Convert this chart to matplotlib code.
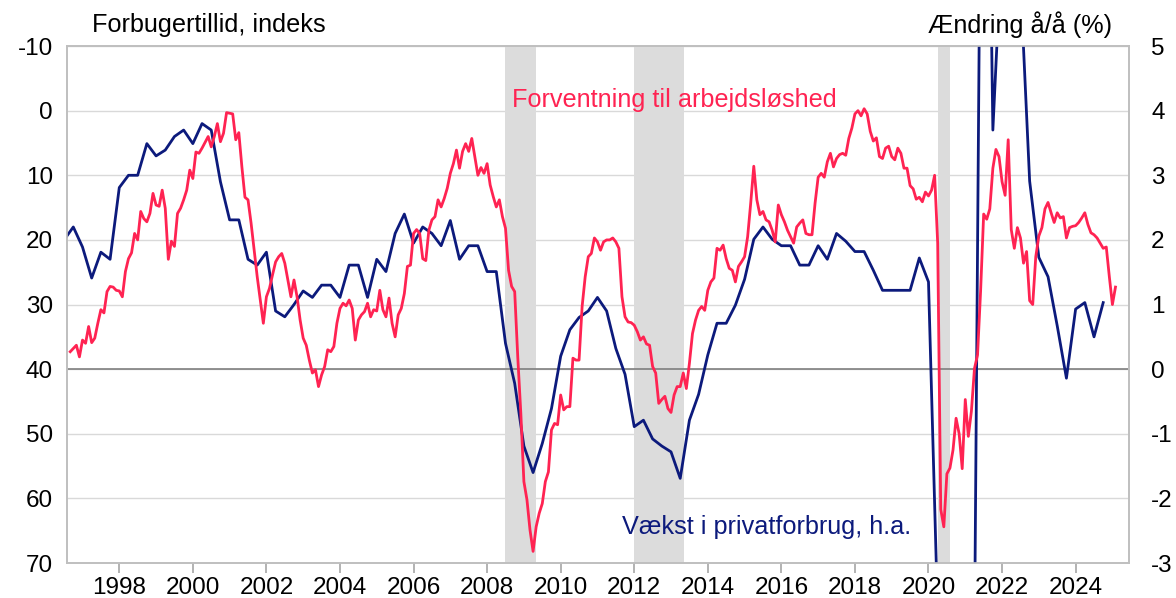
import numpy as np
import pandas as pd
import matplotlib
matplotlib.use("Agg")
import matplotlib.pyplot as plt

plt.rcParams['font.family'] = ['Liberation Sans', 'DejaVu Sans']
plt.rcParams['axes.unicode_minus'] = False

# Forventning til arbejdsløshed (venstre akse, omvendt), månedlig sep. 1996 - feb. 2025
unemp_expect = [
    37.3, 36.8, 36.3, 38.1,                                                  # 1996 (sep-dec)
    35.5, 36.0, 33.4, 35.9, 35.2, 32.9, 30.8, 31.3, 28.0, 27.2, 27.3, 27.8,  # 1997
    27.9, 28.8, 24.9, 22.9, 22.0, 19.0, 20.0, 15.6, 16.7, 17.2, 15.9, 12.8,  # 1998
    14.6, 14.8, 12.3, 15.1, 23.0, 20.2, 21.0, 15.9, 15.1, 13.8, 12.3, 9.2,   # 1999
    10.5, 6.4, 6.6, 5.8, 4.9, 4.0, 5.6, 4.0, 2.0, 4.8, 3.5, 0.3,             # 2000
    0.4, 0.5, 4.5, 3.4, 8.7, 13.4, 13.8, 17.4, 21.6, 25.7, 29.3, 32.9,       # 2001
    28.8, 27.5, 25.4, 23.4, 22.6, 22.1, 23.6, 26.2, 28.8, 26.2, 28.8, 32.4,  # 2002
    35.2, 36.3, 38.6, 40.6, 40.1, 42.7, 40.9, 39.6, 37.0, 37.3, 36.5, 32.9,  # 2003
    30.6, 29.8, 30.2, 29.3, 30.6, 35.5, 32.4, 31.6, 31.1, 29.8, 31.9, 30.8,  # 2004
    31.0, 27.8, 30.8, 31.9, 29.0, 32.9, 35.0, 31.6, 30.6, 28.3, 24.1, 23.9,  # 2005
    19.0, 18.4, 19.0, 22.9, 23.2, 18.5, 16.9, 16.4, 13.8, 14.9, 13.6, 12.0,  # 2006
    9.7, 8.2, 6.1, 8.9, 6.3, 5.1, 6.3, 4.3, 7.1, 10.0, 8.8, 9.7,             # 2007
    8.2, 11.5, 13.3, 14.9, 13.8, 16.4, 18.2, 24.7, 27.2, 28.0, 38.1, 46.8,   # 2008
    57.4, 60.2, 64.9, 68.2, 64.4, 62.3, 60.8, 57.4, 55.9, 49.4, 48.4, 48.6,  # 2009
    44.0, 46.3, 45.8, 45.8, 38.3, 38.6, 38.6, 30.3, 25.7, 22.6, 22.1, 19.7,  # 2010
    20.3, 21.6, 20.3, 20.0, 20.0, 19.7, 20.3, 21.3, 28.8, 31.9, 32.7, 32.8,  # 2011
    33.2, 34.2, 35.5, 35.0, 36.1, 36.3, 39.6, 40.6, 45.3, 44.7, 44.2, 46.1,  # 2012
    46.7, 44.0, 42.7, 42.7, 40.6, 43.0, 39.1, 34.5, 32.4, 30.9, 30.3, 30.9,  # 2013
    27.8, 26.5, 25.9, 21.3, 21.6, 20.8, 22.9, 24.4, 24.7, 26.5, 24.1, 23.4,  # 2014
    22.6, 19.5, 14.3, 8.6, 13.8, 16.1, 15.6, 16.9, 17.2, 18.5, 20.3, 14.6,   # 2015
    16.1, 17.2, 18.5, 19.5, 20.5, 18.0, 17.4, 16.9, 19.0, 19.2, 19.2, 14.3,  # 2016
    10.3, 9.7, 10.3, 7.9, 6.6, 8.7, 7.4, 6.8, 6.6, 6.9, 4.3, 2.7,            # 2017
    0.5, 0.0, 0.8, -0.3, 0.5, 3.2, 4.7, 4.2, 7.1, 7.4, 5.8, 5.5,             # 2018
    7.1, 7.6, 5.8, 6.6, 8.9, 8.9, 11.6, 12.1, 13.7, 13.4, 14.1, 12.6,        # 2019
    13.2, 12.3, 10.0, 20.5, 61.7, 64.4, 56.2, 55.3, 52.5, 47.6, 50.0, 55.4,  # 2020
    44.7, 50.4, 46.5, 39.9, 37.8, 27.9, 16.0, 16.8, 15.2, 8.9, 6.0, 7.1,     # 2021
    11.0, 13.1, 4.5, 18.4, 21.3, 18.1, 19.7, 23.6, 21.8, 29.4, 30.0, 22.6,   # 2022
    19.4, 18.1, 15.2, 14.2, 15.8, 17.3, 15.8, 16.6, 16.4, 19.7, 18.1, 17.9,  # 2023
    17.8, 17.3, 16.6, 15.8, 17.6, 18.9, 19.2, 19.7, 20.5, 21.3, 21.1, 25.7,  # 2024
    30.0, 27.3,                                                              # 2025
]

# Vækst i privatforbrug, å/å pct. (højre akse), kvartalsvis 1996K3 - 2024K4
cons_growth = [
    2.0, 2.2,                  # 1996
    1.89, 1.41, 1.81, 1.70,    # 1997
    2.81, 3.00, 3.00, 3.49,    # 1998
    3.30, 3.39, 3.60, 3.70,    # 1999
    3.49, 3.80, 3.70, 2.90,    # 2000
    2.31, 2.31, 1.70, 1.61,    # 2001
    1.81, 0.90, 0.81, 1.00,    # 2002
    1.21, 1.11, 1.30, 1.30,    # 2003
    1.11, 1.61, 1.61, 1.11,    # 2004
    1.70, 1.51, 2.10, 2.40,    # 2005
    1.95, 2.20, 2.10, 1.91,    # 2006
    2.30, 1.70, 1.91, 1.91,    # 2007
    1.51, 1.51, 0.40, -0.22,   # 2008
    -1.19, -1.60, -1.15, -0.61,  # 2009
    0.20, 0.61, 0.80, 0.90,    # 2010
    1.11, 0.90, 0.32, -0.08,   # 2011
    -0.89, -0.79, -1.08, -1.19,  # 2012
    -1.28, -1.69, -0.79, -0.39,  # 2013
    0.22, 0.71, 0.71, 0.99,    # 2014
    1.39, 2.01, 2.20, 2.01,    # 2015
    1.91, 1.91, 1.61, 1.61,    # 2016
    1.91, 1.70, 2.10, 1.98,    # 2017
    1.82, 1.82, 1.53, 1.22,    # 2018
    1.22, 1.22, 1.22, 1.72,    # 2019
    1.35, -3.8, -5.0, -4.5,    # 2020
    -5.5, -4.2, 14.0, 3.70,    # 2021
    6.7, 7.2, 6.0, 2.91,       # 2022
    1.73, 1.43, 0.67, -0.14,   # 2023
    0.93, 1.03, 0.50, 1.03,    # 2024
]

# gråmarkerede perioder (decimalår)
band_start = [2008.5, 2012.0, 2020.25]
band_end = [2009.33, 2013.34, 2020.59]

x_ticks = list(range(1998, 2025, 2))
left_ticks = list(range(-10, 71, 10))
right_ticks = list(range(-3, 6))

red = '#ff2352'
navy = '#0c1a7c'
grey_band = '#dcdcdc'

months = pd.date_range('1996-09-01', periods=len(unemp_expect), freq='MS')
x_red = months.year + (months.month - 1) / 12
quarters = pd.date_range('1996-07-01', periods=len(cons_growth), freq='QS')
x_navy = quarters.year + (quarters.month - 1) / 12

fig = plt.figure(figsize=(11.76, 5.98), dpi=100)
ax2 = fig.add_axes([0.0567, 0.0585, 0.9033, 0.8645])
ax = ax2.twinx()
ax.yaxis.tick_left()
ax2.yaxis.tick_right()
ax.set_zorder(ax2.get_zorder() + 1)
ax.patch.set_visible(False)

# grid, bands and zero line on the lower axes
for t in right_ticks:
    ax2.axhline(t, color='#d9d9d9', lw=1.0, zorder=0)
for s, e in zip(band_start, band_end):
    ax2.axvspan(s, e, color=grey_band, lw=0, zorder=1)
ax2.axhline(0, color='#7f7f7f', lw=1.2, zorder=2)

ax2.plot(x_navy, cons_growth, color=navy, lw=2.0, zorder=3)
ax.plot(x_red, unemp_expect, color=red, lw=2.0, zorder=3)

ax.set_xlim(1996.57, 2025.45)
ax2.set_xlim(1996.57, 2025.45)
ax.set_ylim(70, -10)
ax2.set_ylim(-3, 5)

ax.set_yticks(left_ticks)
ax.set_yticklabels([str(t) for t in left_ticks])
ax2.set_yticks(right_ticks)
ax2.set_yticklabels([str(t) for t in right_ticks])
ax2.set_xticks(x_ticks)
ax2.set_xticklabels([str(t) for t in x_ticks])

ax.tick_params(axis='y', length=0, labelsize=17.5, pad=10)
ax2.tick_params(axis='y', length=0, labelsize=17.5, pad=16)
ax2.tick_params(axis='x', length=7, width=1.2, color='#a6a6a6', labelsize=17.5, pad=3)
ax.tick_params(axis='x', length=0, labelbottom=False)

for a in (ax, ax2):
    for sp in a.spines.values():
        sp.set_color('#bfbfbf')
        sp.set_linewidth(1.2)

fig.text(0.078, 0.958, 'Forbugertillid, indeks', fontsize=18.2, ha='left', va='center')
fig.text(0.946, 0.958, 'Ændring å/å (%)', fontsize=18.2, ha='right', va='center')
ax.text(2008.68, -1.6, 'Forventning til arbejdsløshed', color=red, fontsize=18.2,
        ha='left', va='center')
ax.text(2011.67, 64.4, 'Vækst i privatforbrug, h.a.', color=navy, fontsize=18.2,
        ha='left', va='center')

fig.savefig('out.png', dpi=100)
